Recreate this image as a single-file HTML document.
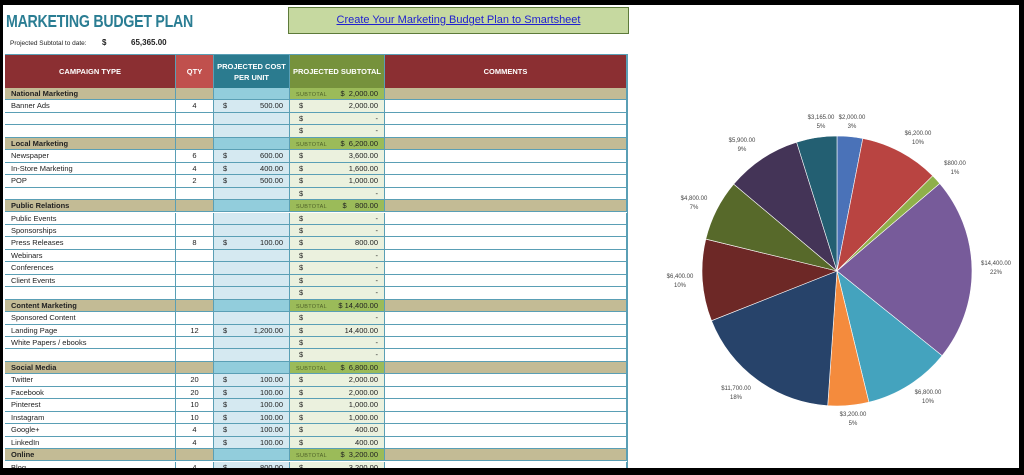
<!DOCTYPE html>
<html><head><meta charset="utf-8"><style>
*{margin:0;padding:0;box-sizing:border-box}
body{width:1024px;height:475px;background:#000;position:relative;overflow:hidden;font-family:"Liberation Sans",sans-serif}
#pg{position:absolute;left:3px;top:5px;width:1016px;height:463px;background:#fff}
.t{position:absolute;left:6px;top:11px;font-size:17.5px;font-weight:bold;color:#2a7d93;letter-spacing:-0.3px;transform:scaleX(0.81);transform-origin:0 0;white-space:nowrap}
.btn{position:absolute;left:288px;top:7px;width:341px;height:27px;background:#c6d9a0;border:1px solid #5d7a3a;text-align:center;font-size:11px;line-height:25px;color:#1f1fd0;text-decoration:underline}
.sub{position:absolute;top:40px;font-size:6.5px;color:#222}
.hd{position:absolute;top:55px;height:33px;color:#fff;font-weight:bold;font-size:7.5px;display:flex;align-items:center;justify-content:center;text-align:center;border-right:1px solid #5a9fb5;line-height:11px}
.r{position:absolute;left:5px;width:622px;height:12.45px;border-bottom:1px solid #5a9fb5;font-size:7.5px;color:#222}
.r span{position:absolute;top:0;height:100%;line-height:11.5px;border-right:1px solid #5a9fb5;white-space:nowrap}
.a{left:0;width:171px;padding-left:6px}
.q{left:171px;width:38px;text-align:center}
.c{left:209px;width:76px;background:#d5e9f1;padding:0 6px 0 9px}
.s{left:285px;width:95px;background:#ebf1de;padding:0 6px 0 9px}
.m{left:380px;width:242px}
.c b,.s b{font-weight:normal;float:right}
.k{background:#c3bb95}
.k .a{font-weight:bold}
.k .c{background:#92cddc}
.k .s{background:#9bbb59;font-weight:bold;padding-left:6px}
.k .s i{font-style:normal;font-size:5.5px;color:#4f6228;font-weight:normal;letter-spacing:.3px}
.lb{position:absolute;font-size:6px;color:#444;text-align:center;line-height:8.5px;width:60px;margin-left:-30px}
</style></head><body><div id="pg"></div>
<div class="t">MARKETING BUDGET PLAN</div>
<div class="btn">Create Your Marketing Budget Plan to Smartsheet</div>
<div class="sub" style="left:10px">Projected Subtotal to date:</div>
<div class="sub" style="left:102px;font-size:8px;font-weight:bold;top:38px">$</div>
<div class="sub" style="left:131px;font-size:8px;font-weight:bold;top:38px">65,365.00</div>
<div style="position:absolute;left:5px;top:54px;width:623px;height:1px;background:#5a9fb5"></div>
<div class="hd" style="left:5px;width:171px;background:#8b2f32">CAMPAIGN TYPE</div>
<div class="hd" style="left:176px;width:38px;background:#c0504d">QTY</div>
<div class="hd" style="left:214px;width:76px;background:#2b7b8f">PROJECTED COST<br>PER UNIT</div>
<div class="hd" style="left:290px;width:95px;background:#76923c">PROJECTED SUBTOTAL</div>
<div class="hd" style="left:385px;width:242px;background:#8b2f32">COMMENTS</div>
<div style="position:absolute;left:627px;top:54px;width:1px;height:414px;background:#5a9fb5"></div>

<div class="r k" style="top:88px"><span class="a">National Marketing</span><span class="q"></span><span class="c"></span><span class="s"><i>SUBTOTAL</i><b>$&nbsp;&nbsp;2,000.00</b></span><span class="m"></span></div>
<div class="r" style="top:100.45px"><span class="a">Banner Ads</span><span class="q">4</span><span class="c">$<b>500.00</b></span><span class="s">$<b>2,000.00</b></span><span class="m"></span></div>
<div class="r" style="top:112.9px"><span class="a"></span><span class="q"></span><span class="c"></span><span class="s">$<b>-</b></span><span class="m"></span></div>
<div class="r" style="top:125.35px"><span class="a"></span><span class="q"></span><span class="c"></span><span class="s">$<b>-</b></span><span class="m"></span></div>
<div class="r k" style="top:137.8px"><span class="a">Local Marketing</span><span class="q"></span><span class="c"></span><span class="s"><i>SUBTOTAL</i><b>$&nbsp;&nbsp;6,200.00</b></span><span class="m"></span></div>
<div class="r" style="top:150.25px"><span class="a">Newspaper</span><span class="q">6</span><span class="c">$<b>600.00</b></span><span class="s">$<b>3,600.00</b></span><span class="m"></span></div>
<div class="r" style="top:162.7px"><span class="a">In-Store Marketing</span><span class="q">4</span><span class="c">$<b>400.00</b></span><span class="s">$<b>1,600.00</b></span><span class="m"></span></div>
<div class="r" style="top:175.15px"><span class="a">POP</span><span class="q">2</span><span class="c">$<b>500.00</b></span><span class="s">$<b>1,000.00</b></span><span class="m"></span></div>
<div class="r" style="top:187.6px"><span class="a"></span><span class="q"></span><span class="c"></span><span class="s">$<b>-</b></span><span class="m"></span></div>
<div class="r k" style="top:200.05px"><span class="a">Public Relations</span><span class="q"></span><span class="c"></span><span class="s"><i>SUBTOTAL</i><b>$&nbsp;&nbsp;&nbsp;&nbsp;800.00</b></span><span class="m"></span></div>
<div class="r" style="top:212.5px"><span class="a">Public Events</span><span class="q"></span><span class="c"></span><span class="s">$<b>-</b></span><span class="m"></span></div>
<div class="r" style="top:224.95px"><span class="a">Sponsorships</span><span class="q"></span><span class="c"></span><span class="s">$<b>-</b></span><span class="m"></span></div>
<div class="r" style="top:237.4px"><span class="a">Press Releases</span><span class="q">8</span><span class="c">$<b>100.00</b></span><span class="s">$<b>800.00</b></span><span class="m"></span></div>
<div class="r" style="top:249.85px"><span class="a">Webinars</span><span class="q"></span><span class="c"></span><span class="s">$<b>-</b></span><span class="m"></span></div>
<div class="r" style="top:262.3px"><span class="a">Conferences</span><span class="q"></span><span class="c"></span><span class="s">$<b>-</b></span><span class="m"></span></div>
<div class="r" style="top:274.75px"><span class="a">Client Events</span><span class="q"></span><span class="c"></span><span class="s">$<b>-</b></span><span class="m"></span></div>
<div class="r" style="top:287.2px"><span class="a"></span><span class="q"></span><span class="c"></span><span class="s">$<b>-</b></span><span class="m"></span></div>
<div class="r k" style="top:299.65px"><span class="a">Content Marketing</span><span class="q"></span><span class="c"></span><span class="s"><i>SUBTOTAL</i><b>$ 14,400.00</b></span><span class="m"></span></div>
<div class="r" style="top:312.1px"><span class="a">Sponsored Content</span><span class="q"></span><span class="c"></span><span class="s">$<b>-</b></span><span class="m"></span></div>
<div class="r" style="top:324.55px"><span class="a">Landing Page</span><span class="q">12</span><span class="c">$<b>1,200.00</b></span><span class="s">$<b>14,400.00</b></span><span class="m"></span></div>
<div class="r" style="top:337px"><span class="a">White Papers / ebooks</span><span class="q"></span><span class="c"></span><span class="s">$<b>-</b></span><span class="m"></span></div>
<div class="r" style="top:349.45px"><span class="a"></span><span class="q"></span><span class="c"></span><span class="s">$<b>-</b></span><span class="m"></span></div>
<div class="r k" style="top:361.9px"><span class="a">Social Media</span><span class="q"></span><span class="c"></span><span class="s"><i>SUBTOTAL</i><b>$&nbsp;&nbsp;6,800.00</b></span><span class="m"></span></div>
<div class="r" style="top:374.35px"><span class="a">Twitter</span><span class="q">20</span><span class="c">$<b>100.00</b></span><span class="s">$<b>2,000.00</b></span><span class="m"></span></div>
<div class="r" style="top:386.8px"><span class="a">Facebook</span><span class="q">20</span><span class="c">$<b>100.00</b></span><span class="s">$<b>2,000.00</b></span><span class="m"></span></div>
<div class="r" style="top:399.25px"><span class="a">Pinterest</span><span class="q">10</span><span class="c">$<b>100.00</b></span><span class="s">$<b>1,000.00</b></span><span class="m"></span></div>
<div class="r" style="top:411.7px"><span class="a">Instagram</span><span class="q">10</span><span class="c">$<b>100.00</b></span><span class="s">$<b>1,000.00</b></span><span class="m"></span></div>
<div class="r" style="top:424.15px"><span class="a">Google+</span><span class="q">4</span><span class="c">$<b>100.00</b></span><span class="s">$<b>400.00</b></span><span class="m"></span></div>
<div class="r" style="top:436.6px"><span class="a">LinkedIn</span><span class="q">4</span><span class="c">$<b>100.00</b></span><span class="s">$<b>400.00</b></span><span class="m"></span></div>
<div class="r k" style="top:449.05px"><span class="a">Online</span><span class="q"></span><span class="c"></span><span class="s"><i>SUBTOTAL</i><b>$&nbsp;&nbsp;3,200.00</b></span><span class="m"></span></div>
<div class="r" style="top:461.5px"><span class="a">Blog</span><span class="q">4</span><span class="c">$<b>800.00</b></span><span class="s">$<b>3,200.00</b></span><span class="m"></span></div>

<div style="position:absolute;left:0;top:468px;width:1024px;height:7px;background:#000"></div>

<svg style="position:absolute;left:0;top:0" width="1024" height="475" viewBox="0 0 1024 475">
<g stroke="#fff" stroke-width="0.6">
<path d="M837 271L837 136A135 135 0 0 1 862.8 138.5Z" fill="#4a72b8"/>
<path d="M837 271L862.8 138.5A135 135 0 0 1 932.7 175.8Z" fill="#b94441"/>
<path d="M837 271L932.7 175.8A135 135 0 0 1 939.8 183.5Z" fill="#8fb04a"/>
<path d="M837 271L939.8 183.5A135 135 0 0 1 942.1 355.7Z" fill="#775b9a"/>
<path d="M837 271L942.1 355.7A135 135 0 0 1 868.9 402.2Z" fill="#44a3be"/>
<path d="M837 271L868.9 402.2A135 135 0 0 1 827.7 405.7Z" fill="#f48b3d"/>
<path d="M837 271L827.7 405.7A135 135 0 0 1 711.5 320.7Z" fill="#27436a"/>
<path d="M837 271L711.5 320.7A135 135 0 0 1 705.8 239.1Z" fill="#6d2826"/>
<path d="M837 271L705.8 239.1A135 135 0 0 1 733.7 184.1Z" fill="#57692a"/>
<path d="M837 271L733.7 184.1A135 135 0 0 1 796.6 142.2Z" fill="#443457"/>
<path d="M837 271L796.6 142.2A135 135 0 0 1 837 136Z" fill="#235f72"/>
</g></svg>
<div class="lb" style="left:852px;top:114px">$2,000.00<br>3%</div>
<div class="lb" style="left:821px;top:114px">$3,165.00<br>5%</div>
<div class="lb" style="left:918px;top:130px">$6,200.00<br>10%</div>
<div class="lb" style="left:955px;top:160px">$800.00<br>1%</div>
<div class="lb" style="left:996px;top:260px">$14,400.00<br>22%</div>
<div class="lb" style="left:928px;top:389px">$6,800.00<br>10%</div>
<div class="lb" style="left:853px;top:411px">$3,200.00<br>5%</div>
<div class="lb" style="left:736px;top:385px">$11,700.00<br>18%</div>
<div class="lb" style="left:680px;top:273px">$6,400.00<br>10%</div>
<div class="lb" style="left:694px;top:195px">$4,800.00<br>7%</div>
<div class="lb" style="left:742px;top:137px">$5,900.00<br>9%</div>
</body></html>
